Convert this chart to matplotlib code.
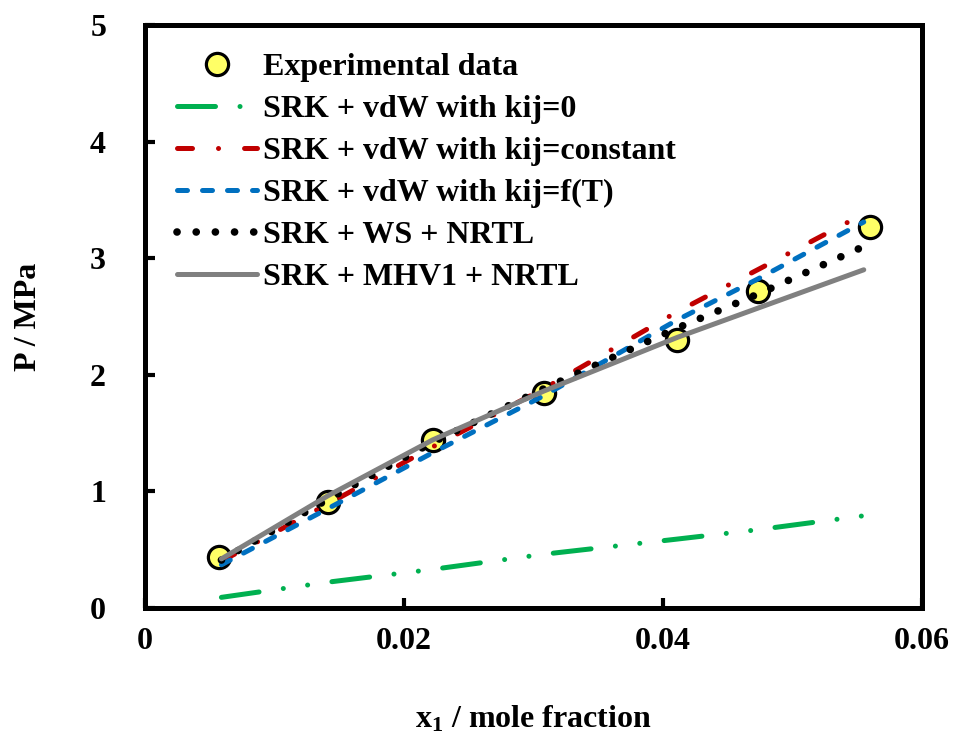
import matplotlib
matplotlib.use("Agg")
import matplotlib.pyplot as plt

plt.rcParams['font.family'] = ['Liberation Serif', 'DejaVu Serif']
plt.rcParams['font.weight'] = 'bold'
plt.rcParams['mathtext.fontset'] = 'custom'
plt.rcParams['mathtext.rm'] = 'Liberation Serif:bold'
plt.rcParams['mathtext.bf'] = 'Liberation Serif:bold'
plt.rcParams['mathtext.it'] = 'Liberation Serif:bold'

# Experimental data
x_exp = [0.0057, 0.0141, 0.0222, 0.0308, 0.0411, 0.0473, 0.0560]
p_exp = [0.44, 0.91, 1.44, 1.84, 2.30, 2.72, 3.27]

# Model curves
x_mod = [0.0059, 0.0141, 0.0222, 0.0308, 0.0411, 0.0473, 0.0555]
p_kij0 = [0.09, 0.22, 0.33, 0.46, 0.59, 0.67, 0.79]
p_kijc = [0.40, 0.89, 1.38, 1.88, 2.54, 2.90, 3.38]
p_kijT = [0.37, 0.85, 1.33, 1.82, 2.47, 2.82, 3.31]
p_ws = [0.41, 0.93, 1.42, 1.88, 2.40, 2.69, 3.10]
p_mhv = [0.42, 0.96, 1.44, 1.86, 2.32, 2.57, 2.90]

labels = ["Experimental data", "SRK + vdW with kij=0", "SRK + vdW with kij=constant",
          "SRK + vdW with kij=f(T)", "SRK + WS + NRTL", "SRK + MHV1 + NRTL"]

fig = plt.figure(figsize=(9.54, 7.35), dpi=100)
ax = fig.add_axes([0.152, 0.173, 0.8145, 0.793])

ax.plot(x_exp, p_exp, linestyle='none', marker='o', markersize=16,
        markerfacecolor='#FFFF66', markeredgecolor='black', markeredgewidth=2.3,
        zorder=2, label=labels[0])
ax.plot(x_mod, p_kij0, color='#00B050', lw=3.6, linestyle=(0, (7.6, 4.9, 0.01, 4.9, 0.01, 4.9)),
        dash_capstyle='round', zorder=3, label=labels[1])
ax.plot(x_mod, p_kijc, color='#C00000', lw=3.6, linestyle=(0, (3, 5.2, 0.01, 5.2)),
        dash_capstyle='round', zorder=3, label=labels[2])
ax.plot(x_mod, p_kijT, color='#0070C0', lw=3.6, linestyle=(0, (2, 3)),
        dash_capstyle='round', zorder=3, label=labels[3])
ax.plot(x_mod, p_ws, color='black', lw=5.5, linestyle=(0, (0.01, 2.5)),
        dash_capstyle='round', zorder=3, label=labels[4])
ax.plot(x_mod, p_mhv, color='#808080', lw=3.6, linestyle='-',
        solid_capstyle='round', zorder=3, label=labels[5])

ax.set_xlim(0, 0.06)
ax.set_ylim(0, 5)
ax.set_xticks([0, 0.02, 0.04, 0.06])
ax.set_xticklabels(['0', '0.02', '0.04', '0.06'])
ax.set_yticks([0, 1, 2, 3, 4, 5])
ax.set_yticklabels(['0', '1', '2', '3', '4', '5'])

for s in ax.spines.values():
    s.set_linewidth(3.6)
ax.tick_params(direction='in', length=7, width=3, labelsize=23)
ax.tick_params(axis='x', pad=14)
ax.tick_params(axis='y', pad=28)

ax.set_xlabel(r'x$_{\mathbf{1}}$ / mole fraction', fontsize=23, fontweight='bold', labelpad=34)
ax.set_ylabel('P / MPa', fontsize=23, fontweight='bold', labelpad=34)

leg = ax.legend(loc='upper left', bbox_to_anchor=(0.025, 0.975), frameon=False,
                fontsize=23, handlelength=2.5, handletextpad=0.2, labelspacing=0.4,
                borderaxespad=0)

fig.savefig('out.png', dpi=100)
